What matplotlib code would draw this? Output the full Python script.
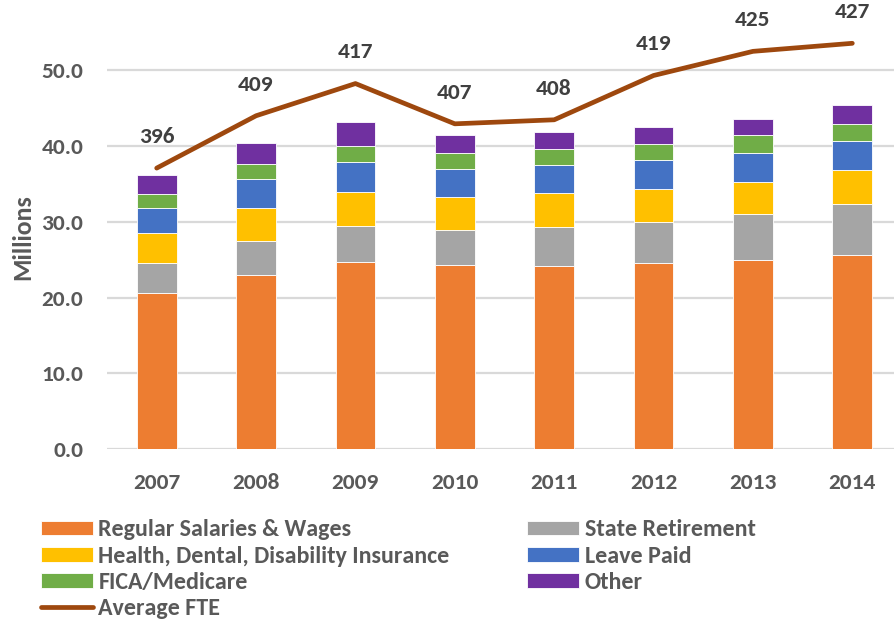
import matplotlib
matplotlib.use("Agg")
import matplotlib.pyplot as plt
from matplotlib.font_manager import FontProperties
import numpy as np

years = ["2007", "2008", "2009", "2010", "2011", "2012", "2013", "2014"]
regular = [20.6, 23.0, 24.7, 24.3, 24.1, 24.6, 24.9, 25.6]
retirement = [3.9, 4.4, 4.7, 4.6, 5.2, 5.4, 6.1, 6.7]
health = [4.0, 4.4, 4.5, 4.3, 4.5, 4.3, 4.2, 4.5]
leave = [3.3, 3.8, 4.0, 3.8, 3.7, 3.9, 3.9, 3.8]
fica = [1.8, 2.0, 2.1, 2.1, 2.1, 2.1, 2.3, 2.3]
other = [2.6, 2.8, 3.2, 2.3, 2.2, 2.2, 2.2, 2.5]
fte = [396, 409, 417, 407, 408, 419, 425, 427]
yticks = [0, 10, 20, 30, 40, 50]

W, H = 895, 619
fig = plt.figure(figsize=(W / 100, H / 100), dpi=100)
ax = fig.add_axes([107 / W, (H - 449.3) / H, (902 - 107) / W, 449.3 / H])
ax2 = ax.twinx()

FAM = ["Carlito", "DejaVu Sans"]
tick_fp = FontProperties(family=FAM, weight="bold", size=16.8)
grey = "#595959"

series = [
    ("Regular Salaries & Wages", regular, "#ED7D31"),
    ("State Retirement", retirement, "#A5A5A5"),
    ("Health, Dental, Disability Insurance", health, "#FFC000"),
    ("Leave Paid", leave, "#4472C4"),
    ("FICA/Medicare", fica, "#70AD47"),
    ("Other", other, "#7030A0"),
]
x = np.arange(len(years))
bottom = np.zeros(len(years))
handles = {}
for name, vals, col in series:
    b = ax.bar(x, vals, 0.4, bottom=bottom, color=col, edgecolor="white",
               linewidth=0.6, label=name, zorder=3)
    handles[name] = b
    bottom += np.array(vals)

ax.set_xlim(-0.5, 7.5)
ax.set_ylim(0, 449.3 / 7.586)
ax.set_yticks(yticks)
ax.set_yticklabels([f"{v:.1f}" for v in yticks])
ax.set_xticks(x)
ax.set_xticklabels(years)
ax.grid(axis="y", color="#D9D9D9", linewidth=1.6, zorder=0)
ax.set_axisbelow(True)
for s in list(ax.spines.values()) + list(ax2.spines.values()):
    s.set_visible(False)
ax.tick_params(axis="both", length=0, colors=grey)
ax.tick_params(axis="y", pad=17)
ax.tick_params(axis="x", pad=17)
for lab in ax.get_xticklabels() + ax.get_yticklabels():
    lab.set_fontproperties(tick_fp)
    lab.set_color(grey)

ax.set_ylabel("Millions", fontproperties=FontProperties(family=FAM, weight="bold", size=18.5),
              color=grey)
ax.yaxis.set_label_coords((22.5 - 107) / 795, (449.3 - 237) / 449.3)
ax.yaxis.label.set_va("center")

# secondary axis for FTE (hidden)
px_per = 4.026
lo = 413.5 - (449.3 - 97.65) / px_per
hi = 413.5 + 97.65 / px_per
ax2.set_ylim(lo, hi)
ax2.set_yticks([])
line, = ax2.plot(x, fte, color="#9E480E", linewidth=3.4, solid_capstyle="round",
                 solid_joinstyle="round", label="Average FTE", zorder=5)
for xi, v in zip(x, fte):
    ax2.annotate(str(v), (xi, v), xytext=(0, 22.5), textcoords="offset points",
                 ha="center", va="center", color="#404040", fontproperties=tick_fp)

leg_fp = FontProperties(family=FAM, weight="bold", size=17.3)
col1 = [handles["Regular Salaries & Wages"], handles["Health, Dental, Disability Insurance"],
        handles["FICA/Medicare"], line]
lab1 = ["Regular Salaries & Wages", "Health, Dental, Disability Insurance", "FICA/Medicare", "Average FTE"]
col2 = [handles["State Retirement"], handles["Leave Paid"], handles["Other"]]
lab2 = ["State Retirement", "Leave Paid", "Other"]

common = dict(loc="upper left", frameon=False, borderpad=0, borderaxespad=0,
              handlelength=2.17, handleheight=0.58, handletextpad=0.23, labelspacing=0.22,
              prop=leg_fp, labelcolor=grey)
l1 = fig.legend(col1, lab1, bbox_to_anchor=(40.7 / W, 1 - 519.5 / H), **common)
l2 = fig.legend(col2, lab2, bbox_to_anchor=(527 / W, 1 - 519.5 / H), **common)

fig.savefig("out.png", dpi=100)
